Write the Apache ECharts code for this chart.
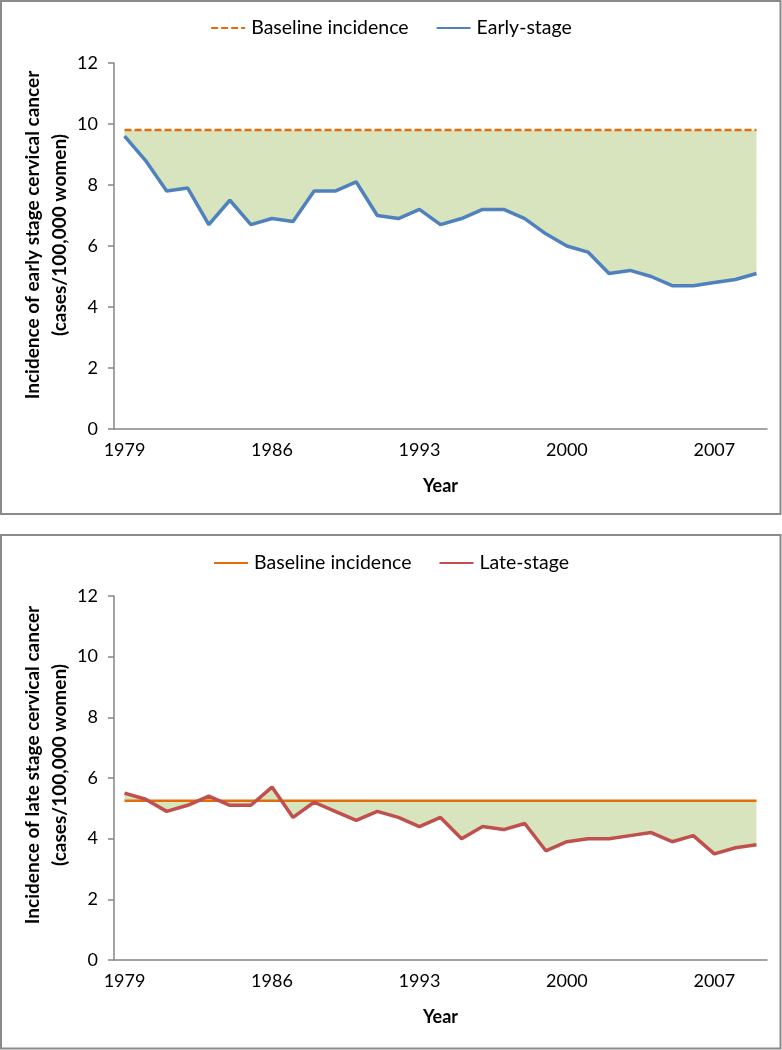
<!DOCTYPE html>
<html>
<head>
<meta charset="utf-8">
<script src="https://cdn.jsdelivr.net/npm/echarts@6/dist/echarts.min.js"></script>
<style>
html,body{margin:0;padding:0;background:#fff;}
#chart{width:782px;height:1050px;}
</style>
</head>
<body>
<div id="chart"></div>
<script>
// ---- data ----
const years = ['1979','1980','1981','1982','1983','1984','1985','1986','1987','1988','1989','1990','1991','1992','1993','1994','1995','1996','1997','1998','1999','2000','2001','2002','2003','2004','2005','2006','2007','2008','2009'];
const earlyStage = [9.6,8.8,7.8,7.9,6.7,7.5,6.7,6.9,6.8,7.8,7.8,8.1,7.0,6.9,7.2,6.7,6.9,7.2,7.2,6.9,6.4,6.0,5.8,5.1,5.2,5.0,4.7,4.7,4.8,4.9,5.1];
const earlyBaselineValue = 9.8;
const lateStage = [5.5,5.3,4.9,5.1,5.4,5.1,5.1,5.7,4.7,5.2,4.9,4.6,4.9,4.7,4.4,4.7,4.0,4.4,4.3,4.5,3.6,3.9,4.0,4.0,4.1,4.2,3.9,4.1,3.5,3.7,3.8];
const lateBaselineValue = 5.25;
const yTicks = [0,2,4,6,8,10,12];

const earlyBaseline = years.map(() => earlyBaselineValue);
const lateBaseline = years.map(() => lateBaselineValue);
const earlyGap = earlyStage.map(v => +(earlyBaselineValue - v).toFixed(3));
const lateGap = lateStage.map(v => +(lateBaselineValue - v).toFixed(3));

const FONT = 'Lato, "Open Sans", sans-serif';
const axisGray = '#868686';

function xAxisCfg(gi) {
  return {
    type: 'category', gridIndex: gi, data: years, boundaryGap: true,
    name: 'Year', nameLocation: 'middle', nameGap: 48,
    nameTextStyle: {fontFamily: FONT, fontSize: 18, fontWeight: 'bold', color: '#000'},
    axisLine: {lineStyle: {color: axisGray, width: 1.5}},
    axisTick: {interval: 6, length: 6, lineStyle: {color: axisGray, width: 1.5}},
    axisLabel: {interval: 6, margin: 12, fontFamily: FONT, fontSize: 18, color: '#000'},
    splitLine: {show: false}
  };
}
function yAxisCfg(gi) {
  return {
    type: 'value', gridIndex: gi, min: yTicks[0], max: yTicks[yTicks.length-1], interval: 2,
    axisLine: {show: true, lineStyle: {color: axisGray, width: 1.5}},
    axisTick: {show: true, length: 6, lineStyle: {color: axisGray, width: 1.5}},
    axisLabel: {margin: 16, fontFamily: FONT, fontSize: 18, color: '#000'},
    splitLine: {show: false}
  };
}
const legendCommon = {
  left: 'center', itemWidth: 34, itemHeight: 12, itemGap: 27,
  itemStyle: {opacity: 0},
  textStyle: {fontFamily: FONT, fontSize: 19.5, color: '#000', padding: [0, 0, 0, 1]}
};

const chart = echarts.init(document.getElementById('chart'), null, {renderer: 'canvas'});
chart.setOption({
  backgroundColor: '#fff',
  animation: false,
  grid: [
    {left: 114, right: 15, top: 63, height: 366},
    {left: 114, right: 15, top: 596, height: 364}
  ],
  legend: [
    Object.assign({top: 13, data: ['Baseline incidence', 'Early-stage']}, legendCommon),
    Object.assign({top: 548, data: ['Baseline incidence ', 'Late-stage'], formatter: n => n.trim()}, legendCommon)
  ],
  xAxis: [xAxisCfg(0), xAxisCfg(1)],
  yAxis: [yAxisCfg(0), yAxisCfg(1)],
  graphic: [
    {type: 'rect', shape: {x: 1, y: 1, width: 779.5, height: 513}, style: {fill: 'none', stroke: '#8a8a8a', lineWidth: 2}, z: -1},
    {type: 'rect', shape: {x: 1, y: 535, width: 779.5, height: 513.5}, style: {fill: 'none', stroke: '#8a8a8a', lineWidth: 2}, z: -1},
    {type: 'text', x: 46, y: 235, rotation: Math.PI/2,
     style: {text: 'Incidence of early stage cervical cancer\n(cases/100,000 women)', textAlign: 'center', textVerticalAlign: 'middle',
             font: 'bold 19px ' + FONT, lineHeight: 27, fill: '#000'}},
    {type: 'text', x: 46, y: 765, rotation: Math.PI/2,
     style: {text: 'Incidence of late stage cervical cancer\n(cases/100,000 women)', textAlign: 'center', textVerticalAlign: 'middle',
             font: 'bold 19px ' + FONT, lineHeight: 27, fill: '#000'}}
  ],
  series: [
    // top panel fill
    {name: 'earlyBase', type: 'line', xAxisIndex: 0, yAxisIndex: 0, stack: 'e', data: earlyStage,
     symbol: 'none', lineStyle: {opacity: 0}, silent: true, z: 1},
    {name: 'earlyFill', type: 'line', xAxisIndex: 0, yAxisIndex: 0, stack: 'e', data: earlyGap,
     symbol: 'none', lineStyle: {opacity: 0}, areaStyle: {color: '#D7E4BD', opacity: 1}, silent: true, z: 1},
    {name: 'Baseline incidence', type: 'line', xAxisIndex: 0, yAxisIndex: 0, data: earlyBaseline,
     symbol: 'none', lineStyle: {color: '#E46C0A', width: 2.5, type: [7, 3]}, itemStyle: {color: '#E46C0A'}, z: 3},
    {name: 'Early-stage', type: 'line', xAxisIndex: 0, yAxisIndex: 0, data: earlyStage,
     symbol: 'none', lineStyle: {color: '#4F81BD', width: 3.5}, itemStyle: {color: '#4F81BD'}, z: 4},
    // bottom panel fill
    {name: 'lateBase', type: 'line', xAxisIndex: 1, yAxisIndex: 1, stack: 'l', stackStrategy: 'all', data: lateStage,
     symbol: 'none', lineStyle: {opacity: 0}, silent: true, z: 1},
    {name: 'lateFill', type: 'line', xAxisIndex: 1, yAxisIndex: 1, stack: 'l', stackStrategy: 'all', data: lateGap,
     symbol: 'none', lineStyle: {opacity: 0}, areaStyle: {color: '#D7E4BD', opacity: 1}, silent: true, z: 1},
    {name: 'Baseline incidence ', type: 'line', xAxisIndex: 1, yAxisIndex: 1, data: lateBaseline,
     symbol: 'none', lineStyle: {color: '#E46C0A', width: 2.5}, itemStyle: {color: '#E46C0A'}, z: 3},
    {name: 'Late-stage', type: 'line', xAxisIndex: 1, yAxisIndex: 1, data: lateStage,
     symbol: 'none', lineStyle: {color: '#C0504D', width: 3.5}, itemStyle: {color: '#C0504D'}, z: 4}
  ]
});
</script>
</body>
</html>
